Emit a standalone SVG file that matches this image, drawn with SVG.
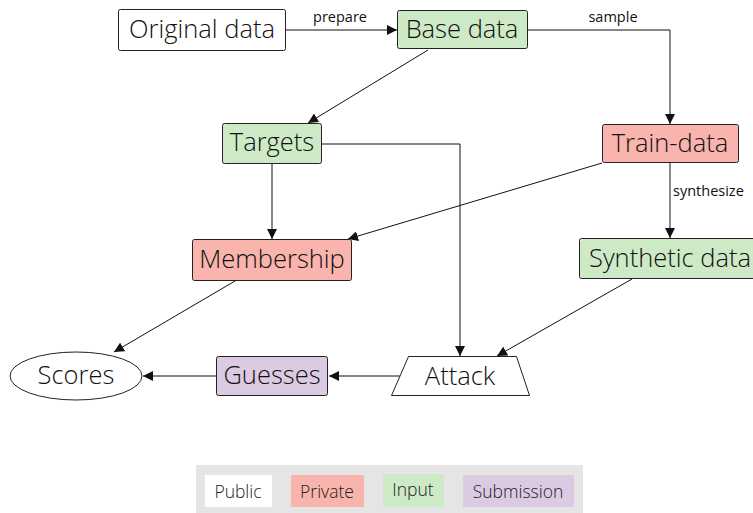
<svg xmlns="http://www.w3.org/2000/svg" width="753" height="513" viewBox="0 0 753 513">
  <style>
    .node { stroke: #222; stroke-width: 1; }
    .public { fill: #ffffff; }
    .private { fill: #f9b4ad; }
    .input { fill: #cde9c6; }
    .submission { fill: #dccae3; }
    .label { font-family: "Open Sans", "Noto Sans", sans-serif; font-weight: 300; font-size: 25.5px; fill: #111; text-anchor: middle; dominant-baseline: central; }
    .edge { stroke: #111; stroke-width: 1; fill: none; }
    .elabel { font-family: "Open Sans", "Noto Sans", sans-serif; font-weight: 500; font-size: 14.5px; fill: #111; }
    .legend { font-family: "Open Sans", "Noto Sans", sans-serif; font-weight: 300; font-size: 17.5px; fill: #222; text-anchor: middle; dominant-baseline: central; }
  </style>
  <defs>
    <marker id="arrow" viewBox="0 0 10 10" refX="10" refY="5" markerWidth="10" markerHeight="10" markerUnits="userSpaceOnUse" orient="auto">
      <path d="M0,0 L10,5 L0,10 z" fill="#111"/>
    </marker>
  </defs>

  <g id="connectors">
    <line class="edge" x1="285" y1="30" x2="397" y2="30" marker-end="url(#arrow)"/>
    <text class="elabel" x="340" y="22" text-anchor="middle">prepare</text>
    <polyline class="edge" points="528,30 670,30 670,124" marker-end="url(#arrow)"/>
    <text class="elabel" x="613" y="22" text-anchor="middle">sample</text>
    <line class="edge" x1="670" y1="163" x2="670" y2="238" marker-end="url(#arrow)"/>
    <text class="elabel" x="673" y="196">synthesize</text>
    <line class="edge" x1="428" y1="50" x2="308" y2="123" marker-end="url(#arrow)"/>
    <line class="edge" x1="272" y1="164" x2="272" y2="239" marker-end="url(#arrow)"/>
    <line class="edge" x1="602" y1="163" x2="348" y2="239" marker-end="url(#arrow)"/>
    <polyline class="edge" points="322,144 460,144 460,356" marker-end="url(#arrow)"/>
    <line class="edge" x1="632" y1="279" x2="497" y2="356" marker-end="url(#arrow)"/>
    <line class="edge" x1="235" y1="281" x2="114" y2="352" marker-end="url(#arrow)"/>
    <line class="edge" x1="401" y1="376" x2="329" y2="376" marker-end="url(#arrow)"/>
    <line class="edge" x1="216" y1="376" x2="143" y2="376" marker-end="url(#arrow)"/>
  </g>

  <g id="original-data">
    <rect class="node public" x="118.5" y="9.5" width="167" height="41" rx="2"/>
    <text class="label" x="202" y="28">Original data</text>
  </g>
  <g id="base-data">
    <rect class="node input" x="397.5" y="10.5" width="130" height="38" rx="2"/>
    <text class="label" x="462" y="28">Base data</text>
  </g>
  <g id="train-data">
    <rect class="node private" x="602.5" y="124.5" width="136" height="38" rx="2"/>
    <text class="label" x="670" y="142">Train-data</text>
  </g>
  <g id="targets">
    <rect class="node input" x="222.5" y="123.5" width="99" height="40" rx="2"/>
    <text class="label" x="272" y="141">Targets</text>
  </g>
  <g id="membership">
    <rect class="node private" x="192.5" y="239.5" width="159" height="41" rx="2"/>
    <text class="label" x="272" y="258">Membership</text>
  </g>
  <g id="synthetic-data">
    <rect class="node input" x="579.5" y="238.5" width="176" height="40" rx="2"/>
    <text class="label" x="670" y="257">Synthetic data</text>
  </g>
  <g id="attack">
    <polygon class="node public" points="408.5,356.5 516.5,356.5 529.5,395.5 391.5,395.5"/>
    <text class="label" x="460" y="375">Attack</text>
  </g>
  <g id="guesses">
    <rect class="node submission" x="216.5" y="356.5" width="111" height="39" rx="2"/>
    <text class="label" x="272" y="374">Guesses</text>
  </g>
  <g id="scores">
    <ellipse class="node public" cx="76" cy="376" rx="66" ry="24"/>
    <text class="label" x="76" y="374">Scores</text>
  </g>

  <g id="legend">
    <rect x="196" y="465" width="387" height="48" fill="#e5e5e5"/>
    <rect x="205" y="475" width="67" height="32" fill="#ffffff"/>
    <text class="legend" x="238" y="491">Public</text>
    <rect x="291" y="475" width="73" height="32" fill="#f9b4ad"/>
    <text class="legend" x="327" y="491">Private</text>
    <rect x="383" y="474" width="61" height="33" fill="#cde9c6"/>
    <text class="legend" x="413" y="489">Input</text>
    <rect x="463" y="475" width="111" height="32" fill="#dccae3"/>
    <text class="legend" x="518" y="491">Submission</text>
  </g>
</svg>
